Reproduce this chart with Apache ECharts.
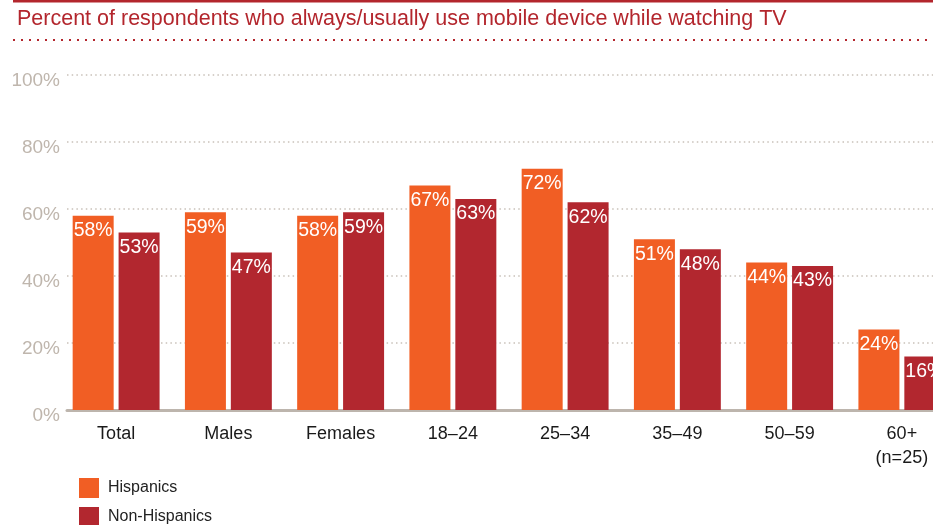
<!DOCTYPE html>
<html>
<head>
<meta charset="utf-8">
<script src="https://cdn.jsdelivr.net/npm/echarts@6/dist/echarts.min.js"></script>
<style>html,body{margin:0;padding:0;background:#fff;overflow:hidden;width:933px;height:525px;}#c{width:960px;height:540px;}</style>
</head>
<body>
<div id="c"></div>
<script>
const categories = ['Total', 'Males', 'Females', '18–24', '25–34', '35–49', '50–59', '60+\n(n=25)'];
const hispanics = [58, 59, 58, 67, 72, 51, 44, 24];
const nonHispanics = [53, 47, 59, 63, 62, 48, 43, 16];
const yTicks = [0, 20, 40, 60, 80, 100];
const titleText = 'Percent of respondents who always/usually use mobile device while watching TV';

const chart = echarts.init(document.getElementById('c'));
const FONT = '"Liberation Sans", Arial, Helvetica, sans-serif';
chart.setOption({
  animation: false,
  textStyle: { fontFamily: FONT },
  title: {
    text: titleText, left: 17, top: 8, padding: 0,
    textStyle: { color: '#b3262d', fontSize: 21.5, fontWeight: 'normal', fontFamily: FONT }
  },
  graphic: [
    { type: 'line', shape: { x1: 13, y1: 1.2, x2: 960, y2: 1.2 }, style: { stroke: '#b3262d', lineWidth: 2.5 } },
    { type: 'line', shape: { x1: 13, y1: 40, x2: 960, y2: 40 }, style: { stroke: '#b3262d', lineWidth: 2, lineDash: [2, 6] } }
  ],
  legend: {
    orient: 'vertical', left: 79, top: 478, padding: 0, itemWidth: 20, itemHeight: 20, itemGap: 9,
    icon: 'rect', textStyle: { fontSize: 16, color: '#222', fontFamily: FONT, padding: [0, 0, 0, 4] },
    data: ['Hispanics', 'Non-Hispanics']
  },
  grid: [
    { left: 67, right: 2, top: 75, bottom: 130 },
    { left: 60, right: 2, top: 75, bottom: 130 }
  ],
  xAxis: [
    { type: 'category', gridIndex: 0, data: categories,
      axisLine: { show: true, lineStyle: { color: '#bdb5ad', width: 3 } },
      axisTick: { show: false }, axisLabel: { show: false } },
    { type: 'category', gridIndex: 1, data: categories,
      axisLine: { show: false }, axisTick: { show: false },
      axisLabel: { color: '#1a1a1a', fontSize: 18, margin: 12, lineHeight: 24, fontFamily: FONT } }
  ],
  yAxis: [
    { type: 'value', gridIndex: 0, min: 0, max: 100, interval: 20,
      axisLine: { show: false }, axisTick: { show: false },
      axisLabel: { color: '#bfb6ad', fontSize: 19, margin: 7, fontFamily: FONT, verticalAlign: 'top', lineHeight: 12,
        formatter: v => yTicks.includes(v) ? v + '%' : '' },
      splitLine: { show: true, lineStyle: { color: '#c9c1b9', width: 1.5, type: [1.5, 3.2] } } },
    { type: 'value', gridIndex: 1, min: 0, max: 100, interval: 20, show: false,
      splitLine: { show: false } }
  ],
  series: [
    { name: 'Hispanics', type: 'bar', xAxisIndex: 1, yAxisIndex: 1, data: hispanics,
      barWidth: 41, barGap: '12%', itemStyle: { color: '#f15e24' },
      label: { show: true, position: 'insideTop', distance: 5, color: '#fff', fontSize: 19.5, fontFamily: FONT,
        formatter: p => p.value + '%' } },
    { name: 'Non-Hispanics', type: 'bar', xAxisIndex: 1, yAxisIndex: 1, data: nonHispanics,
      barWidth: 41, barGap: '12%', itemStyle: { color: '#b2272f' },
      label: { show: true, position: 'insideTop', distance: 5, color: '#fff', fontSize: 19.5, fontFamily: FONT,
        formatter: p => p.value + '%' } }
  ]
});
</script>
</body>
</html>
